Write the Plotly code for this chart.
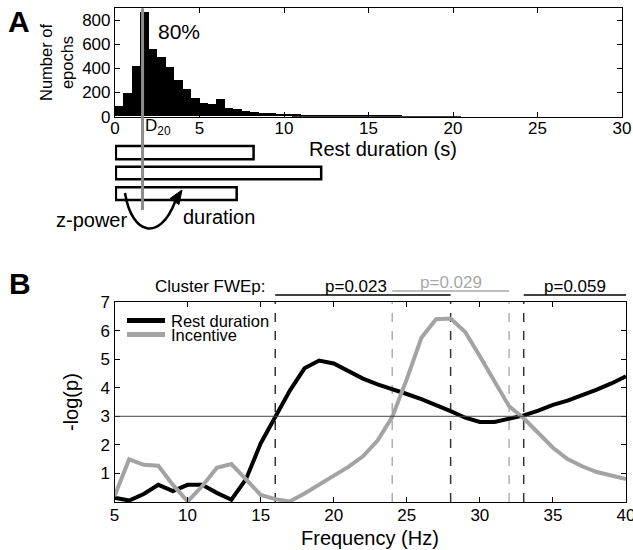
import plotly.graph_objects as go

# ---------------- data ----------------
# Panel A: histogram of rest durations (0.5 s bins starting at 0 s)
bin_width = 0.5
epoch_counts = [90, 195, 415, 860, 555, 490, 405, 300, 225, 150,
                112, 102, 145, 68, 60, 45, 35, 28, 25, 22,
                18, 16, 14, 13, 11, 10, 9, 8, 7, 8,
                7, 5, 4, 4, 3, 3, 3, 2, 2, 1, 1]
d20 = 1.63                      # 20th percentile of rest duration
example_durations = [8.2, 12.2, 7.2]
hist_xticks = [0, 5, 10, 15, 20, 25, 30]
hist_yticks = [0, 200, 400, 600, 800]

# Panel B: -log(p) spectra
freq = list(range(5, 41))
rest_duration = [0.15, 0.05, 0.28, 0.6, 0.38, 0.6, 0.6, 0.32, 0.08, 0.8,
                 2.05, 3.0, 3.9, 4.68, 4.95, 4.85, 4.58, 4.32, 4.12, 3.96,
                 3.78, 3.6, 3.4, 3.18, 2.95, 2.8, 2.8, 2.9, 3.03, 3.2,
                 3.4, 3.55, 3.73, 3.93, 4.15, 4.4]
incentive = [0.2, 1.49, 1.3, 1.27, 0.6, 0.02, 0.55, 1.2, 1.33, 0.78,
             0.25, 0.1, 0.02, 0.3, 0.6, 0.9, 1.23, 1.6, 2.15, 2.97,
             4.3, 5.75, 6.4, 6.42, 5.95, 5.1, 4.2, 3.35, 2.93, 2.4,
             1.9, 1.5, 1.25, 1.05, 0.92, 0.8]
threshold = 3
rest_cluster_edges = [16, 28, 33]
incentive_cluster_edges = [24, 32]
cluster_start = [16, 24, 33]
cluster_end = [28, 32, 40]
cluster_labels = ["p=0.023", "p=0.029", "p=0.059"]
cluster_label_pos = [21.5, 28, 36.5]
cluster_is_incentive = [False, True, False]
freq_ticks = [5, 10, 15, 20, 25, 30, 35, 40]
logp_ticks = [1, 2, 3, 4, 5, 6, 7]

# ---------------- layout helpers ----------------
W, H = 633, 550
FONT = "Liberation Sans, Arial, sans-serif"
GRAY = "#a3a3a3"


def px(x):
    return x / W


def py(y):
    return 1 - y / H


fig = go.Figure()

fig.add_trace(go.Bar(
    x=[i * bin_width + bin_width / 2 for i in range(len(epoch_counts))],
    y=epoch_counts, width=bin_width,
    marker=dict(color="black", line=dict(width=0)),
    xaxis="x", yaxis="y", showlegend=False, hoverinfo="skip"))

fig.add_trace(go.Scatter(
    x=freq, y=rest_duration, mode="lines", name="Rest duration",
    line=dict(color="black", width=4), xaxis="x2", yaxis="y2", showlegend=False))
fig.add_trace(go.Scatter(
    x=freq, y=incentive, mode="lines", name="Incentive",
    line=dict(color=GRAY, width=4), xaxis="x2", yaxis="y2", showlegend=False))

axis_common = dict(showline=True, linecolor="black", linewidth=1.2, mirror="ticks",
                   ticks="inside", ticklen=5, tickwidth=1, tickcolor="black",
                   showgrid=False, zeroline=False, automargin=False,
                   ticklabeloverflow="allow",
                   tickfont=dict(family=FONT, size=17, color="black"))

shapes = []
annotations = []

# D20 line
shapes.append(dict(type="line", xref="x", yref="paper", x0=d20, x1=d20,
                   y0=py(210), y1=py(8.3), line=dict(color="#8c8c8c", width=3),
                   layer="above"))
# example epochs (boxes)
box_rows = [(146, 159.3), (166.7, 179.3), (187.3, 200)]
for dur, (top, bot) in zip(example_durations, box_rows):
    shapes.append(dict(type="rect", xref="x", yref="paper", x0=0.05, x1=dur,
                       y0=py(bot), y1=py(top), line=dict(color="black", width=2.5),
                       fillcolor="rgba(0,0,0,0)", layer="below"))


def P(x, y):
    return f"{px(x):.5f},{py(y):.5f}"


# curved arrow with a filled head
shapes.append(dict(type="path", xref="paper", yref="paper",
                   path=f"M {P(125,193)} C {P(132,236)} {P(160,241)} {P(175,202)}",
                   line=dict(color="black", width=2.5)))
shapes.append(dict(type="path", xref="paper", yref="paper",
                   path=f"M {P(182,190)} L {P(179,204.5)} L {P(170,198.5)} Z",
                   fillcolor="black", line=dict(color="black", width=1)))

# Panel B reference lines
shapes.append(dict(type="line", xref="x2", yref="y2", x0=5, x1=40,
                   y0=threshold, y1=threshold, line=dict(color="#444", width=1)))
for f in rest_cluster_edges:
    shapes.append(dict(type="line", xref="x2", yref="y2", x0=f, x1=f, y0=0, y1=7,
                       line=dict(color="#333", width=1.5, dash="dash"), layer="below"))
for f in incentive_cluster_edges:
    shapes.append(dict(type="line", xref="x2", yref="y2", x0=f, x1=f, y0=0, y1=7,
                       line=dict(color="#888", width=1, dash="dash"), layer="below"))
for a, b, lab, lx, inc in zip(cluster_start, cluster_end, cluster_labels,
                              cluster_label_pos, cluster_is_incentive):
    col = "#a8a8a8" if inc else "black"
    yy = 291 if inc else 295
    shapes.append(dict(type="line", xref="x2", yref="paper", x0=a, x1=b,
                       y0=py(yy), y1=py(yy), line=dict(color=col, width=1.5)))
    annotations.append(dict(xref="x2", yref="paper", x=lx, y=py(yy - 9),
                            xanchor="center", yanchor="middle", showarrow=False, text=lab,
                            font=dict(family=FONT, size=17, color=col)))

# manual legend
for yy, col, lab in [(320.5, "black", "Rest duration"), (334.5, GRAY, "Incentive")]:
    shapes.append(dict(type="line", xref="paper", yref="paper", x0=px(127), x1=px(165),
                       y0=py(yy), y1=py(yy), line=dict(color=col, width=5)))
    annotations.append(dict(xref="paper", yref="paper", x=px(169), y=py(yy + 0.5),
                            xanchor="left", yanchor="middle", showarrow=False, text=lab,
                            font=dict(family=FONT, size=16.5, color="black")))


def txt(x, y, t, size, xanchor="center", **kw):
    d = dict(xref="paper", yref="paper", x=px(x), y=py(y), text=t, showarrow=False,
             xanchor=xanchor, yanchor="middle",
             font=dict(family=FONT, size=size, color=kw.pop("color", "black")))
    d.update(kw)
    annotations.append(d)


txt(19, 21, "<b>A</b>", 30)
txt(20, 283, "<b>B</b>", 30)
txt(179, 31, "80%", 21)
txt(143, 127, "D<sub>20</sub>", 17, xanchor="left")
txt(383, 149, "Rest duration (s)", 20)
txt(57, 63, "Number of<br>epochs", 16.5, textangle=-90)
txt(91, 220, "z-power", 20)
txt(219, 217, "duration", 20)
txt(210, 286, "Cluster FWEp:", 17)
txt(71, 402, "-log(p)", 20, textangle=-90)
txt(370, 538, "Frequency (Hz)", 20)

fig.update_layout(
    width=W, height=H, margin=dict(l=0, r=0, t=0, b=0, pad=0),
    paper_bgcolor="white", plot_bgcolor="white", bargap=0,
    font=dict(family=FONT, color="black"),
    xaxis=dict(domain=[px(115), px(622)], range=[0, 30], tickvals=hist_xticks,
               anchor="y", ticklabelstandoff=-4, **axis_common),
    yaxis=dict(domain=[py(116.7), py(8.3)], range=[0, 897], tickvals=hist_yticks,
               anchor="x", **axis_common),
    xaxis2=dict(domain=[px(114.5), px(626)], range=[5, 40], tickvals=freq_ticks,
                anchor="y2", ticklabelstandoff=-3, **axis_common),
    yaxis2=dict(domain=[py(502), py(302)], range=[0, 7], tickvals=logp_ticks,
                anchor="x2", **axis_common),
    shapes=shapes, annotations=annotations,
)

fig.write_html("out.html", config={"displayModeBar": False},
               post_script="document.body.style.margin='0px';")
